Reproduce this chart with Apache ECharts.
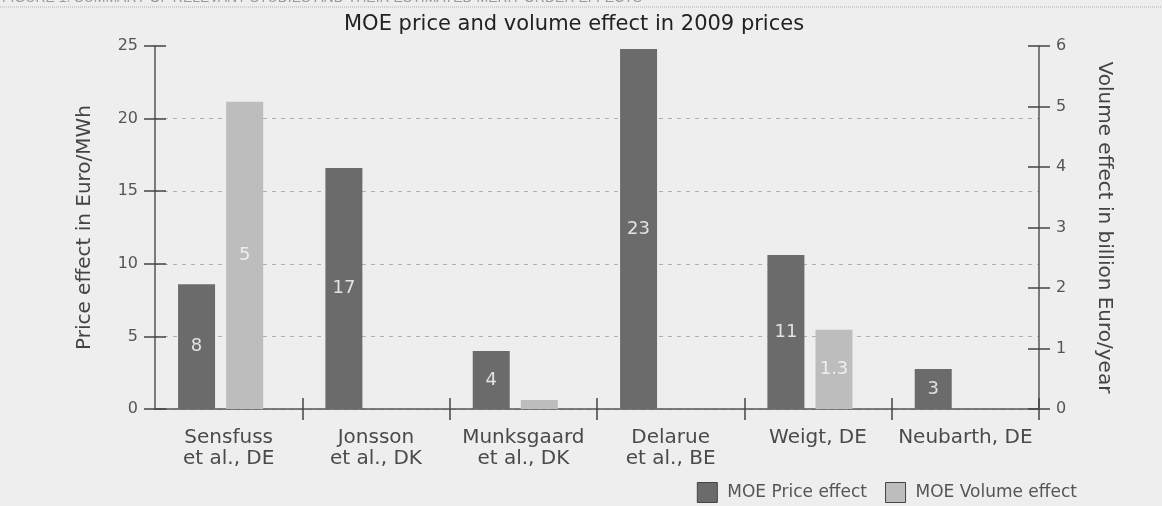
<!DOCTYPE html>
<html>
<head>
<meta charset="utf-8">
<script src="https://cdn.jsdelivr.net/npm/echarts@6/dist/echarts.min.js"></script>
<style>html,body{margin:0;padding:0;background:#eeeeee;}#chart{width:1162px;height:506px;}</style>
</head>
<body>
<div id="chart"></div>
<script>
var categories = ['Sensfuss\net al., DE', 'Jonsson\net al., DK', 'Munksgaard\net al., DK', 'Delarue\net al., BE', 'Weigt, DE', 'Neubarth, DE'];
var priceEffect = [8.6, 16.6, 4.0, 24.8, 10.6, 2.75];
var priceLabels = ['8', '17', '4', '23', '11', '3'];
var volumeEffect = [5.08, null, 0.15, null, 1.31, null];
var volumeLabels = ['5', '', '', '', '1.3', ''];
var priceTicks = [0, 25, 5];
var volumeTicks = [0, 6, 1];

var FONT = 'DejaVu Sans';
var GRID = '#b0b0b0';
var chart = echarts.init(document.getElementById('chart'));
function yAx(pos, t, main, inside, name, gap) {
  return {
    type: 'value', position: pos, min: t[0], max: t[1], interval: t[2],
    name: main ? name : '', nameLocation: 'middle', nameGap: gap,
    nameRotate: pos === 'left' ? 90 : -90,
    nameTextStyle: {fontFamily: FONT, fontSize: 20, color: '#444'},
    axisLine: {show: main, lineStyle: {color: '#555', width: 1.5}},
    axisTick: {show: true, inside: inside, length: 11, lineStyle: {color: '#444', width: 1.5}},
    axisLabel: {show: main, margin: 17, fontFamily: FONT, fontSize: 16, color: '#555'},
    splitLine: {show: main && pos === 'left', lineStyle: {color: [GRID, GRID, GRID, GRID, GRID, 'rgba(0,0,0,0)'], type: [4, 5], width: 1}}
  };
}
function noEdge(i) { return i !== 0; }
chart.setOption({
  backgroundColor: '#eeeeee',
  animation: false,
  title: {
    text: 'MOE price and volume effect in 2009 prices', left: 339, top: 9,
    textStyle: {fontFamily: FONT, fontSize: 21, fontWeight: 'normal', color: '#222'}
  },
  graphic: [
    {type: 'text', left: 2, top: -9, style: {text: 'FIGURE 1. SUMMARY OF RELEVANT STUDIES AND THEIR ESTIMATED MERIT ORDER EFFECTS', font: '14px "Liberation Sans"', fill: '#9a9a9a'}},
    {type: 'line', shape: {x1: 0, y1: 7, x2: 1162, y2: 7}, style: {stroke: '#b0b0b0', lineWidth: 1, lineDash: [1, 1]}}
  ],
  legend: {
    data: ['MOE Price effect', 'MOE Volume effect'],
    right: 80, top: 477, itemWidth: 20, itemHeight: 20, itemGap: 18,
    icon: 'rect',
    itemStyle: {borderColor: '#444', borderWidth: 1},
    textStyle: {fontFamily: FONT, fontSize: 17, color: '#555', padding: [0, 0, 0, 5]}
  },
  grid: {left: 155, right: 123, top: 46, bottom: 97},
  xAxis: [
    {
      type: 'category', data: categories, position: 'bottom',
      axisLine: {lineStyle: {color: '#555', width: 1.5}},
      axisTick: {show: true, interval: noEdge, alignWithLabel: false, length: 11, lineStyle: {color: '#444', width: 1.5}},
      axisLabel: {interval: 0, margin: 18, fontFamily: FONT, fontSize: 20, color: '#4a4a4a', lineHeight: 21}
    },
    {
      type: 'category', data: categories, position: 'bottom',
      axisLine: {show: false},
      axisTick: {show: true, interval: noEdge, alignWithLabel: false, inside: true, length: 11, lineStyle: {color: '#444', width: 1.5}},
      axisLabel: {show: false, interval: 0}
    }
  ],
  yAxis: [
    yAx('left', priceTicks, true, false, 'Price effect in Euro/MWh', 60),
    yAx('right', volumeTicks, true, false, 'Volume effect in billion Euro/year', 55),
    yAx('left', priceTicks, false, true, '', 0),
    yAx('right', volumeTicks, false, true, '', 0)
  ],
  series: [
    {
      name: 'MOE Price effect', type: 'bar', xAxisIndex: 0, yAxisIndex: 0, barWidth: 37, barGap: '30%',
      data: priceEffect, itemStyle: {color: '#6b6b6b'},
      label: {show: true, position: 'inside', fontFamily: FONT, fontSize: 18, color: '#e2e2e2',
        formatter: function (p) { return priceLabels[p.dataIndex]; }}
    },
    {
      name: 'MOE Volume effect', type: 'bar', xAxisIndex: 0, yAxisIndex: 1, barWidth: 37, barGap: '30%',
      data: volumeEffect, itemStyle: {color: '#bdbdbd'},
      label: {show: true, position: 'inside', fontFamily: FONT, fontSize: 18, color: '#eeeeee',
        formatter: function (p) { return volumeLabels[p.dataIndex]; }}
    },
    {
      name: 'spacer', type: 'bar', xAxisIndex: 0, yAxisIndex: 0, barWidth: 5, barGap: '30%',
      data: [null, null, null, null, null, null], silent: true
    }
  ]
});
</script>
</body>
</html>
